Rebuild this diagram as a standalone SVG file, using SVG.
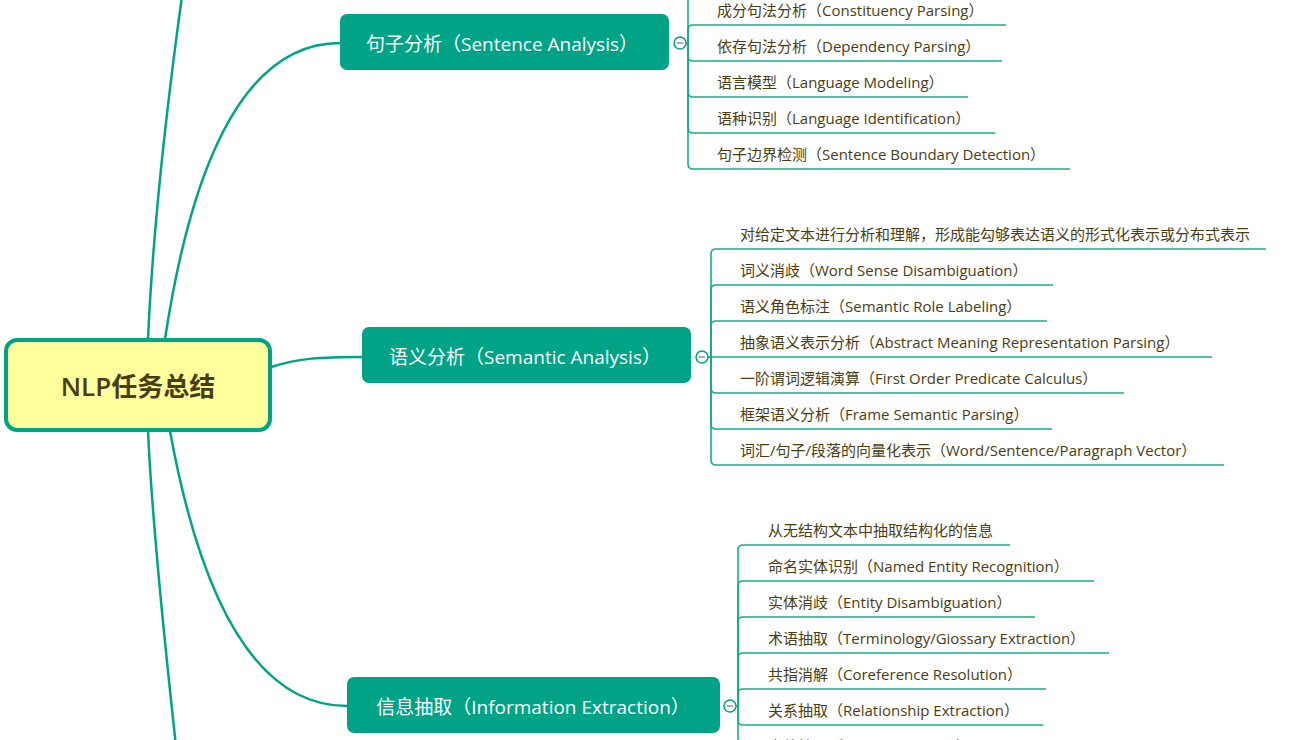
<svg xmlns="http://www.w3.org/2000/svg" width="1315" height="740" viewBox="0 0 1315 740">
<style>
.main{fill:none;stroke:#00a386;stroke-width:2.5}
.sub{fill:none;stroke:#1aab8e;stroke-width:1.6}
.topic{fill:#00a386}
.tt{font-family:"Open Sans","Noto Sans CJK SC",sans-serif;font-size:19px;fill:#ffffff;text-anchor:middle}
.ct{font-family:"Open Sans","Noto Sans CJK SC",sans-serif;font-size:15px;fill:#4a3d12}
.col{fill:#ffffff;stroke:#00a386;stroke-width:1.5}
.minus{stroke:#8a8ab8;stroke-width:1.5}
</style>
<rect width="1315" height="740" fill="#ffffff"/>
<g id="connectors">
<path class="main" d="M148,339 C152,250 165,110 190,-60"/>
<path class="main" d="M165,339 Q210,43 340,43"/>
<path class="main" d="M271,367 C300,358 320,357 362,357"/>
<path class="main" d="M170,431 Q220,706 347,706"/>
<path class="main" d="M148,431 C152,520 165,650 182,800"/>
<path class="sub" d="M686,43 H688 V-20"/>
<path class="sub" d="M688,43 V30 Q688,25 693,25 H1006"/>
<path class="sub" d="M688,43 V56 Q688,61 693,61 H1002"/>
<path class="sub" d="M688,43 V92 Q688,97 693,97 H968"/>
<path class="sub" d="M688,43 V128 Q688,133 693,133 H995"/>
<path class="sub" d="M688,43 V164 Q688,169 693,169 H1070"/>
<path class="sub" d="M708,357 H711 V254 Q711,249 716,249 H1266"/>
<path class="sub" d="M711,357 V290 Q711,285 716,285 H1053"/>
<path class="sub" d="M711,357 V326 Q711,321 716,321 H1047"/>
<path class="sub" d="M708,357 H1212"/>
<path class="sub" d="M711,357 V388 Q711,393 716,393 H1124"/>
<path class="sub" d="M711,357 V424 Q711,429 716,429 H1052"/>
<path class="sub" d="M711,357 V460 Q711,465 716,465 H1224"/>
<path class="sub" d="M736,706 H738 V550 Q738,545 743,545 H1010"/>
<path class="sub" d="M738,706 V586 Q738,581 743,581 H1094"/>
<path class="sub" d="M738,706 V622 Q738,617 743,617 H1035"/>
<path class="sub" d="M738,706 V658 Q738,653 743,653 H1109"/>
<path class="sub" d="M738,706 V694 Q738,689 743,689 H1046"/>
<path class="sub" d="M738,706 V720 Q738,725 743,725 H1043"/>
<path class="sub" d="M738,706 V780"/>
</g>
<g id="root">
<rect x="6" y="340" width="264" height="90" rx="11" fill="#ffff9e" stroke="#00a386" stroke-width="4"/>
<text x="138" y="396" font-family="'Open Sans','Noto Sans CJK SC',sans-serif" font-size="26" font-weight="600" fill="#4a3d12" text-anchor="middle">NLP任务总结</text>
</g>
<g id="sentence">
<rect class="topic" x="340" y="14" width="329" height="56" rx="7"/>
<text class="tt" x="502" y="51">句子分析（Sentence Analysis）</text>
<circle class="col" cx="680" cy="43" r="6"/><line class="minus" x1="677" y1="43" x2="683" y2="43"/>
</g>
<g id="sentence-children">
<text class="ct" x="717" y="16">成分句法分析（Constituency Parsing）</text>
<text class="ct" x="717" y="52">依存句法分析（Dependency Parsing）</text>
<text class="ct" x="717" y="88">语言模型（Language Modeling）</text>
<text class="ct" x="717" y="124">语种识别（Language Identification）</text>
<text class="ct" x="717" y="160">句子边界检测（Sentence Boundary Detection）</text>
</g>
<g id="semantic">
<rect class="topic" x="362" y="327" width="329" height="56" rx="7"/>
<text class="tt" x="525" y="364">语义分析（Semantic Analysis）</text>
<circle class="col" cx="702" cy="357" r="6"/><line class="minus" x1="699" y1="357" x2="705" y2="357"/>
</g>
<g id="semantic-children">
<text class="ct" x="740" y="240">对给定文本进行分析和理解，形成能勾够表达语义的形式化表示或分布式表示</text>
<text class="ct" x="740" y="276">词义消歧（Word Sense Disambiguation）</text>
<text class="ct" x="740" y="312">语义角色标注（Semantic Role Labeling）</text>
<text class="ct" x="740" y="348">抽象语义表示分析（Abstract Meaning Representation Parsing）</text>
<text class="ct" x="740" y="384">一阶谓词逻辑演算（First Order Predicate Calculus）</text>
<text class="ct" x="740" y="420">框架语义分析（Frame Semantic Parsing）</text>
<text class="ct" x="740" y="456">词汇/句子/段落的向量化表示（Word/Sentence/Paragraph Vector）</text>
</g>
<g id="info">
<rect class="topic" x="347" y="677" width="373" height="56" rx="7"/>
<text class="tt" x="533" y="714">信息抽取（Information Extraction）</text>
<circle class="col" cx="730" cy="706" r="6"/><line class="minus" x1="727" y1="706" x2="733" y2="706"/>
</g>
<g id="info-children">
<text class="ct" x="768" y="536">从无结构文本中抽取结构化的信息</text>
<text class="ct" x="768" y="572">命名实体识别（Named Entity Recognition）</text>
<text class="ct" x="768" y="608">实体消歧（Entity Disambiguation）</text>
<text class="ct" x="768" y="644">术语抽取（Terminology/Giossary Extraction）</text>
<text class="ct" x="768" y="680">共指消解（Coreference Resolution）</text>
<text class="ct" x="768" y="716">关系抽取（Relationship Extraction）</text>
<text class="ct" x="768" y="752">事件抽取（Event Extraction）</text>
</g>
</svg>
